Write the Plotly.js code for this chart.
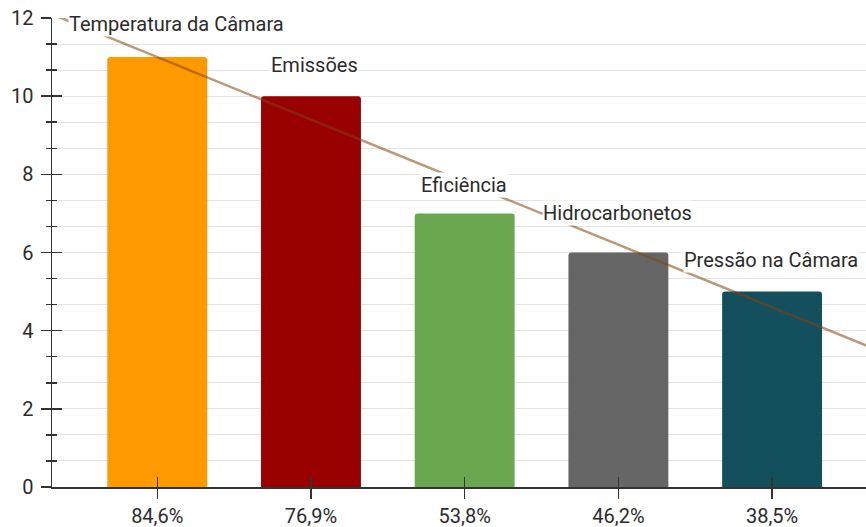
<!DOCTYPE html>
<html>
<head>
<meta charset="utf-8">
<script src="https://cdn.plot.ly/plotly-3.0.1.min.js"></script>
<style>html,body{margin:0;padding:0;background:#fff;}#chart{width:866px;height:527px;}</style>
</head>
<body>
<div id="chart"></div>
<script>
// ---- data ----
const categories = ["Temperatura da Câmara", "Emissões", "Eficiência", "Hidrocarbonetos", "Pressão na Câmara"];
const tickLabels = ["84,6%", "76,9%", "53,8%", "46,2%", "38,5%"];
const values = [11, 10, 7, 6, 5];
const colors = ["#ff9900", "#990000", "#6aa84f", "#666666", "#134f5c"];

// ---- layout helpers (label anchors, not data) ----
const labelPos = [[-0.58, 11.85], [0.735, 10.8], [1.71, 7.73], [2.5, 7.0], [3.42, 5.81]];

const idx = values.map((_, i) => i);
// linear regression trend
const n = values.length;
const mx = idx.reduce((a, b) => a + b, 0) / n;
const my = values.reduce((a, b) => a + b, 0) / n;
let sxy = 0, sxx = 0;
idx.forEach((x, i) => { sxy += (x - mx) * (values[i] - my); sxx += (x - mx) * (x - mx); });
const slope = sxy / sxx, intercept = my - slope * mx;
const xRange = [-0.685, 4.611];
const trendX = [xRange[0] - 0.2, xRange[1] + 0.2];
const trendY = trendX.map(x => intercept + slope * x);

const font = {family: "Roboto, sans-serif", size: 20, color: "#2b2b2b"};
const gridColor = "#e3e3e3";

const traces = [
  {type: "bar", x: idx, y: values, width: 0.65, marker: {color: colors, cornerradius: 3},
   hoverinfo: "skip", showlegend: false},
  {type: "scatter", mode: "lines", x: trendX, y: trendY, xaxis: "x2", yaxis: "y2",
   line: {color: "rgba(128,70,10,0.55)", width: 2.5}, hoverinfo: "skip", showlegend: false}
];

const annotations = categories.map((c, i) => ({
  text: c, x: labelPos[i][0], y: labelPos[i][1], xref: "x", yref: "y",
  xanchor: "left", yanchor: "middle", showarrow: false, bgcolor: "#ffffff",
  borderpad: 0, font: font
}));

const layout = {
  width: 866, height: 527,
  margin: {l: 52, r: 0, t: 18, b: 40},
  paper_bgcolor: "#ffffff", plot_bgcolor: "#ffffff",
  showlegend: false,
  font: font,
  xaxis: {range: xRange, tickvals: idx, ticktext: tickLabels, showgrid: false, zeroline: false,
          showline: true, linecolor: "#333333", linewidth: 1.5,
          ticks: "outside", ticklen: 10, tickcolor: "#333333", tickwidth: 1.5, tickfont: font},
  yaxis: {range: [0, 12], dtick: 2, tick0: 0, showgrid: true, gridcolor: gridColor, zeroline: false,
          showline: true, linecolor: "#333333", linewidth: 1.5, ticklabelstandoff: 3,
          ticks: "outside", ticklen: 10, tickcolor: "#333333", tickwidth: 1.5, tickfont: font,
          minor: {dtick: 2/3, tick0: 0, ticks: "outside", ticklen: 5, tickcolor: "#333333", tickwidth: 1.5,
                  showgrid: true, gridcolor: gridColor}},
  xaxis2: {range: xRange, overlaying: "x", tickvals: idx, showticklabels: false, showgrid: false,
           zeroline: false, showline: false, ticks: "inside", ticklen: 10, tickcolor: "#333333", tickwidth: 1.5},
  yaxis2: {range: [0, 12], overlaying: "y", dtick: 2, tick0: 0, showticklabels: false, showgrid: false,
           zeroline: false, showline: false, ticks: "inside", ticklen: 10, tickcolor: "#333333", tickwidth: 1.5,
           minor: {dtick: 2/3, tick0: 0, ticks: "inside", ticklen: 5, tickcolor: "#333333", tickwidth: 1.5, showgrid: false}},
  annotations: annotations
};

Plotly.newPlot("chart", traces, layout, {displayModeBar: false, staticPlot: true});
</script>
</body>
</html>
